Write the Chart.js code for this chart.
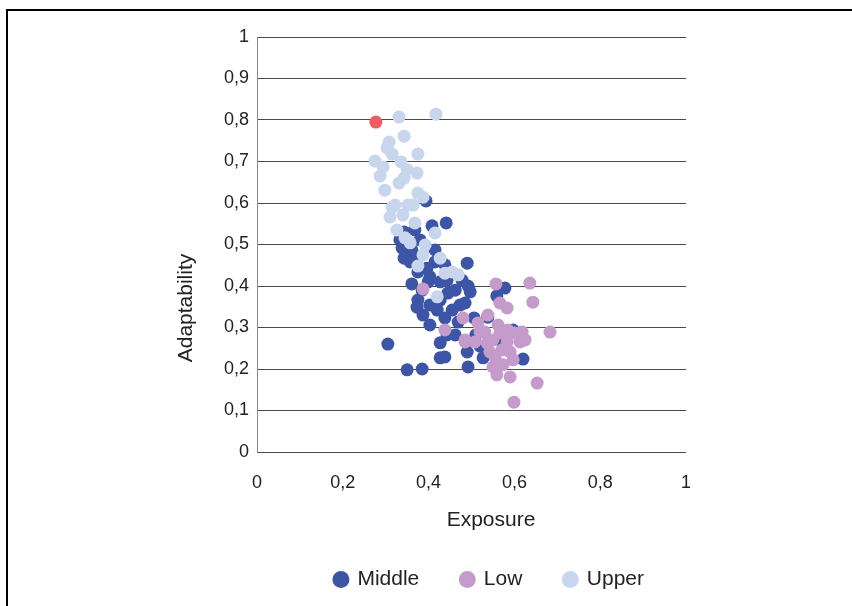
<!DOCTYPE html>
<html>
<head>
<meta charset="utf-8">
<script src="https://cdn.jsdelivr.net/npm/chart.js@4"></script>
<style>
  body { margin: 0; background: #fff; }
  #frame { position: absolute; left: 6px; top: 9px; width: 900px; height: 700px;
           border-top: 2px solid #000; border-left: 2px solid #000; }
  #wrap { position: absolute; left: 0; top: 0; width: 852px; height: 606px; }
</style>
</head>
<body>
<div id="frame"></div>
<div id="wrap"><canvas id="chart" width="852" height="606"></canvas></div>
<script>
// Series values (exposure, adaptability)
const middleX = [0.394, 0.441, 0.408, 0.343, 0.338, 0.343, 0.361, 0.375, 0.415, 0.415, 0.396, 0.438, 0.490, 0.375, 0.403, 0.427,
                 0.478, 0.492, 0.462, 0.361, 0.385, 0.445, 0.375, 0.403, 0.473, 0.373, 0.387, 0.403, 0.438, 0.455, 0.506, 0.462,
                 0.427, 0.443, 0.305, 0.427, 0.438, 0.350, 0.385, 0.492, 0.490, 0.527, 0.620, 0.578, 0.559, 0.538, 0.485, 0.368,
                 0.333, 0.380, 0.399, 0.420, 0.510, 0.520, 0.566, 0.597, 0.469, 0.497, 0.357, 0.443, 0.427];
const middleY = [0.605, 0.552, 0.545, 0.530, 0.492, 0.467, 0.487, 0.470, 0.487, 0.458, 0.443, 0.451, 0.455, 0.434, 0.422, 0.410,
                 0.414, 0.400, 0.390, 0.405, 0.390, 0.383, 0.366, 0.354, 0.354, 0.349, 0.330, 0.306, 0.323, 0.342, 0.323, 0.282,
                 0.263, 0.282, 0.260, 0.227, 0.229, 0.198, 0.200, 0.205, 0.241, 0.227, 0.224, 0.395, 0.376, 0.325, 0.359, 0.535,
                 0.511, 0.511, 0.410, 0.342, 0.282, 0.255, 0.270, 0.294, 0.313, 0.386, 0.458, 0.414, 0.366];

const lowX = [0.387, 0.438, 0.480, 0.485, 0.557, 0.636, 0.566, 0.583, 0.643, 0.683, 0.653, 0.599, 0.590, 0.559, 0.550,
              0.538, 0.515, 0.531, 0.562, 0.585, 0.618, 0.625, 0.613, 0.485, 0.508, 0.550, 0.583, 0.571, 0.590, 0.543,
              0.555, 0.597, 0.573, 0.566, 0.520, 0.601, 0.536];
const lowY = [0.393, 0.294, 0.323, 0.270, 0.405, 0.407, 0.359, 0.347, 0.361, 0.289, 0.166, 0.120, 0.181, 0.186, 0.205,
              0.330, 0.311, 0.289, 0.306, 0.294, 0.289, 0.270, 0.265, 0.265, 0.265, 0.270, 0.265, 0.246, 0.241, 0.241,
              0.227, 0.222, 0.210, 0.287, 0.289, 0.287, 0.263];

const upperX = [0.331, 0.417, 0.343, 0.308, 0.303, 0.375, 0.315, 0.275, 0.294, 0.287, 0.336, 0.350, 0.373, 0.343, 0.298, 0.375,
                0.387, 0.322, 0.352, 0.315, 0.310, 0.340, 0.364, 0.368, 0.326, 0.415, 0.345, 0.357, 0.387, 0.427, 0.375, 0.455,
                0.469, 0.438, 0.420, 0.392, 0.331];
const upperY = [0.807, 0.814, 0.761, 0.747, 0.733, 0.718, 0.718, 0.701, 0.687, 0.665, 0.699, 0.680, 0.672, 0.660, 0.631, 0.624,
                0.614, 0.595, 0.595, 0.590, 0.566, 0.571, 0.595, 0.552, 0.535, 0.528, 0.516, 0.504, 0.475, 0.467, 0.448, 0.434,
                0.427, 0.431, 0.374, 0.499, 0.648];

const highlightX = [0.277];
const highlightY = [0.795];

const seriesNames = ['Middle', 'Low', 'Upper'];
const seriesColors = ['#3d55a6', '#c49bca', '#c7d6ec', '#ef5b62'];
const xTitle = 'Exposure';
const yTitle = 'Adaptability';

const toPoints = (xs, ys) => xs.map((x, i) => ({ x: x, y: ys[i] }));
const comma = v => String(Math.round(v * 10) / 10).replace('.', ',');

const family = '"Liberation Sans", Arial, sans-serif';
const tickFont = { family: family, size: 18 };
const bigFont = { family: family, size: 21 };

// axis titles sit off-centre in the original, so they are drawn by hand
const axisTitles = {
    id: 'axisTitles',
    afterDraw(chart) {
        const c = chart.ctx;
        const a = chart.chartArea;
        c.save();
        c.font = '21px ' + family;
        c.fillStyle = '#222';
        c.textAlign = 'center';
        c.textBaseline = 'middle';
        c.fillText(xTitle, a.left + 234, a.bottom + 68);
        c.translate(a.left - 71, a.top + 271);
        c.rotate(-Math.PI / 2);
        c.fillText(yTitle, 0, 0);
        c.restore();
    }
};

const ctx = document.getElementById('chart').getContext('2d');
const chart = new Chart(ctx, {
    type: 'scatter',
    data: {
        datasets: [
            { label: seriesNames[0], data: toPoints(middleX, middleY), backgroundColor: seriesColors[0], order: 3 },
            { label: seriesNames[1], data: toPoints(lowX, lowY), backgroundColor: seriesColors[1], order: 2 },
            { label: seriesNames[2], data: toPoints(upperX, upperY), backgroundColor: seriesColors[2], order: 1 },
            { label: 'highlight', data: toPoints(highlightX, highlightY), backgroundColor: seriesColors[3], order: 0 },
        ]
    },
    plugins: [axisTitles],
    options: {
        responsive: false,
        animation: false,
        elements: {
            point: { radius: 6.5, borderWidth: 0, hoverRadius: 6.5 }
        },
        layout: {
            padding: { left: 170, right: 166, top: 37, bottom: 6 }
        },
        scales: {
            x: {
                type: 'linear',
                min: 0,
                max: 1,
                afterFit: function(scale) { scale.height = 75; },
                grid: { display: false, drawTicks: false },
                border: { display: false },
                ticks: { stepSize: 0.2, padding: 20, color: '#222', font: tickFont, callback: v => comma(v) },
            },
            y: {
                min: 0,
                max: 1,
                afterFit: function(scale) { scale.width = 87; },
                grid: { color: '#4a4a4a', lineWidth: 1, drawTicks: false },
                border: { display: true, color: '#8a8a8a', width: 1 },
                ticks: { stepSize: 0.1, padding: 8, color: '#222', font: tickFont, callback: v => comma(v) },
            }
        },
        plugins: {
            legend: {
                position: 'bottom',
                align: 'end',
                labels: {
                    usePointStyle: true,
                    pointStyle: 'circle',
                    boxWidth: 12,
                    boxHeight: 12,
                    padding: 42,
                    color: '#222',
                    font: bigFont,
                    filter: item => item.datasetIndex < 3,
                    sort: (a, b) => a.datasetIndex - b.datasetIndex,
                }
            },
            tooltip: { enabled: false }
        }
    }
});
</script>
</body>
</html>
